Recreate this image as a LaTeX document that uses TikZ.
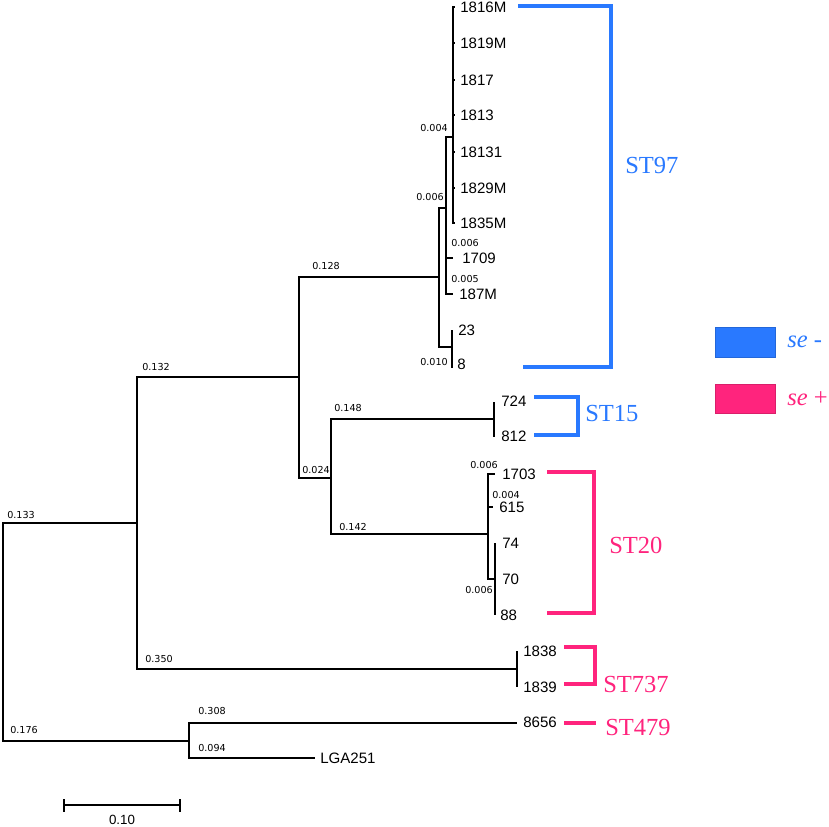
\documentclass[tikz,border=0pt]{standalone}
\usepackage{fontspec}
\setmainfont{Liberation Serif}
\setsansfont{Liberation Sans}
\newfontfamily\lenfont{DejaVu Sans}
\usepackage{tikz}

\definecolor{seneg}{RGB}{41,121,255}
\definecolor{sepos}{RGB}{255,36,125}

\begin{document}
\begin{tikzpicture}[x=0.75pt,y=0.75pt,yscale=-1,xscale=1,
  branch/.style={line width=1.1pt},
  taxon/.style={anchor=west,inner sep=0.75pt,font=\sffamily\fontsize{11.3}{13}\selectfont},
  blen/.style={anchor=west,inner sep=0.75pt,font=\lenfont\fontsize{7.2}{8}\selectfont},
  stline/.style={line width=2.3pt},
  stlabel/.style={anchor=west,inner sep=0.75pt,font=\fontsize{18.4}{20}\selectfont}]
\useasboundingbox (0,0) rectangle (829,827);

%Internal nodes
\coordinate (root) at (3,632);
\coordinate (nU) at (137,523);
\coordinate (nL) at (189,741);
\coordinate (nV) at (299,377);
\coordinate (nW) at (517,669);
\coordinate (nA) at (439,277);
\coordinate (nX) at (331,478);
\coordinate (nY) at (494,419);
\coordinate (nZ) at (488,534);
\coordinate (nZb) at (495,579);
\coordinate (nB) at (446,208);
\coordinate (nC) at (452,347);
\coordinate (nD) at (453,137);

%Leaf tips
\coordinate (t1816M) at (455,7);
\coordinate (t1819M) at (455,43);
\coordinate (t1817) at (455,80);
\coordinate (t1813) at (455,115);
\coordinate (t18131) at (455,152);
\coordinate (t1829M) at (455,188);
\coordinate (t1835M) at (455,223);
\coordinate (t1709) at (453,258);
\coordinate (t187M) at (453,294);
\coordinate (t23) at (452,330);
\coordinate (t8) at (452,368);
\coordinate (t724) at (494,402);
\coordinate (t812) at (494,437);
\coordinate (t1703) at (495,474);
\coordinate (t615) at (493,507);
\coordinate (t74) at (495,543);
\coordinate (t70) at (495,579);
\coordinate (t88) at (495,615);
\coordinate (t1838) at (517,651);
\coordinate (t1839) at (517,687);
\coordinate (t8656) at (517,723);
\coordinate (tLGA) at (315,758);

%Straight Lines (backbone)
\draw [branch] (root) |- (nU) (root) |- (nL);
\draw [branch] (nU) |- (nV) (nU) |- (nW);
\draw [branch] (nV) |- (nA) (nV) |- (nX);
\draw [branch] (nX) |- (nY) (nX) |- (nZ);
\draw [branch] (nA) |- (nB) (nA) |- (nC);
\draw [branch] (nB) |- (nD) (nB) |- (t1709) (nB) |- (t187M);
%Straight Lines (leaves)
\draw [branch] (nD) |- (t1816M) (nD) |- (t1819M) (nD) |- (t1817) (nD) |- (t1813);
\draw [branch] (nD) |- (t18131) (nD) |- (t1829M) (nD) |- (t1835M);
\draw [branch] (nC) |- (t23) (nC) |- (t8);
\draw [branch] (nY) |- (t724) (nY) |- (t812);
\draw [branch] (nZ) |- (t1703) (nZ) |- (t615) (nZ) |- (nZb);
\draw [branch] (nZb) |- (t74) (nZb) |- (t88);
\draw [branch] (nW) |- (t1838) (nW) |- (t1839);
\draw [branch] (nL) |- (t8656) (nL) |- (tLGA);

% Text Node
\draw (459,7) node [taxon] (l1816M) {1816M};
\draw (459,43) node [taxon] (l1819M) {1819M};
\draw (459,80) node [taxon] (l1817) {1817};
\draw (459,115) node [taxon] (l1813) {1813};
\draw (459,152) node [taxon] (l18131) {18131};
\draw (459,188) node [taxon] (l1829M) {1829M};
\draw (459,223) node [taxon] (l1835M) {1835M};
\draw (461,258) node [taxon] (l1709) {1709};
\draw (458,294) node [taxon] (l187M) {187M};
\draw (457,330) node [taxon] (l23) {23};
\draw (456,364) node [taxon] (l8) {8};
\draw (500,401) node [taxon] (l724) {724};
\draw (500,436) node [taxon] (l812) {812};
\draw (501,474) node [taxon] (l1703) {1703};
\draw (498,507) node [taxon] (l615) {615};
\draw (501,543) node [taxon] (l74) {74};
\draw (501,579) node [taxon] (l70) {70};
\draw (499,615) node [taxon] (l88) {88};
\draw (522,651) node [taxon] (l1838) {1838};
\draw (522,687) node [taxon] (l1839) {1839};
\draw (522,722) node [taxon] (l8656) {8656};
\draw (319,758) node [taxon] (lLGA) {LGA251};

% Text Node (branch lengths)
\draw (419,128) node [blen] (b1) {0.004};
\draw (415,197) node [blen] (b2) {0.006};
\draw (450,243) node [blen] (b3) {0.006};
\draw (450,279) node [blen] (b4) {0.005};
\draw (419,362) node [blen] (b5) {0.010};
\draw (311,266) node [blen] (b6) {0.128};
\draw (141,367) node [blen] (b7) {0.132};
\draw (333,408) node [blen] (b8) {0.148};
\draw (301,470) node [blen] (b9) {0.024};
\draw (338,527) node [blen] (b10) {0.142};
\draw (469,465) node [blen] (b11) {0.006};
\draw (491,495) node [blen] (b12) {0.004};
\draw (464,590) node [blen] (b13) {0.006};
\draw (6,515) node [blen] (b14) {0.133};
\draw (144,659) node [blen] (b15) {0.350};
\draw (197,711) node [blen] (b16) {0.308};
\draw (9,730) node [blen] (b17) {0.176};
\draw (197,748) node [blen] (b18) {0.094};

%Straight Lines (ST brackets)
\draw [stline, seneg] (518,6) -| (611,367) -- (523,367);
\draw [stline, seneg] (534,397) -| (578,435) -- (534,435);
\draw [stline, sepos] (547,472) -| (594,613) -- (547,613);
\draw [stline, sepos] (564,647) -| (595,684) -- (564,684);
\draw [stline, sepos] (564,723) -- (596,723);

% Text Node
\draw (624,166) node [stlabel, seneg] (st97) {ST97};
\draw (584,413) node [stlabel, seneg] (st15) {ST15};
\draw (608,545) node [stlabel, sepos] (st20) {ST20};
\draw (602,684) node [stlabel, sepos] (st737) {ST737};
\draw (604,727) node [stlabel, sepos] (st479) {ST479};

%Shape: Rectangle (legend)
\draw [draw=seneg!85!black, fill=seneg, line width=0.6pt] (715,327) rectangle (775,357);
\draw [draw=sepos!85!black, fill=sepos, line width=0.6pt] (715,384) rectangle (775,413);
\draw (786,348) node [stlabel, seneg, anchor=base west] (keyneg) {\textit{se} -};
\draw (786,406) node [stlabel, sepos, anchor=base west] (keypos) {\textit{se} +};

%Scale bar
\draw [branch] (64,805) -- (180,805);
\draw [line width=1.8pt] (64,799) -- (64,812) (180,799) -- (180,812);
\draw (122,820) node [inner sep=0.75pt, font=\sffamily\fontsize{10}{12}\selectfont] (scl) {0.10};

\end{tikzpicture}
\end{document}
